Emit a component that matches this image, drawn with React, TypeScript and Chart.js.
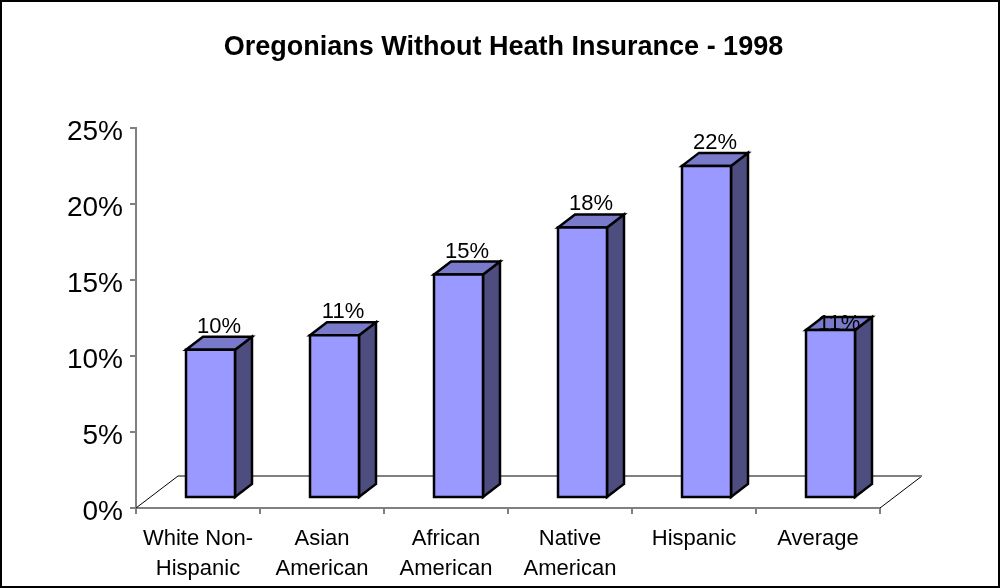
import React, { useEffect, useRef } from 'react';
import { Chart, registerables } from 'chart.js';

Chart.register(...registerables);

const TITLE = 'Oregonians Without Heath Insurance - 1998';
const CATEGORIES = [
  ['White Non-', 'Hispanic'],
  ['Asian', 'American'],
  ['African', 'American'],
  ['Native', 'American'],
  ['Hispanic'],
  ['Average'],
];
const UNINSURED = [0.0975, 0.107, 0.147, 0.178, 0.2185, 0.1105];
const Y_MIN = 0;
const Y_MAX = 0.25;
const Y_STEP = 0.05;

const FONT = '"Liberation Sans", Arial, Helvetica, sans-serif';
const FRONT = '#9999FF';
const TOP = '#7A7ACA';
const SIDE = '#4D4D80';

const pct = (v: number) => Math.round(v * 100) + '%';

const bar3d = {
  id: 'bar3d',
  beforeDraw(chart: any) {
    const { ctx, width, height } = chart;
    ctx.save();
    ctx.fillStyle = '#fff';
    ctx.fillRect(0, 0, width, height);
    ctx.restore();
  },
  beforeDatasetsDraw(chart: any) {
    const { ctx } = chart;
    const xs = chart.scales.x;
    const ys = chart.scales.y;
    const y0 = ys.getPixelForValue(0);
    const L = xs.left;
    const R = xs.right;
    const fdx = 42;
    const fdy = 32;
    ctx.save();
    ctx.strokeStyle = '#000';
    ctx.lineWidth = 1;
    ctx.beginPath();
    ctx.moveTo(L, y0);
    ctx.lineTo(L + fdx, y0 - fdy);
    ctx.moveTo(R + fdx, y0 - fdy);
    ctx.lineTo(R, y0);
    ctx.stroke();
    ctx.strokeStyle = '#808080';
    ctx.lineWidth = 2;
    ctx.beginPath();
    ctx.moveTo(L + fdx, y0 - fdy);
    ctx.lineTo(R + fdx, y0 - fdy);
    ctx.stroke();
    ctx.restore();
  },
  afterDatasetsDraw(chart: any) {
    const { ctx } = chart;
    const meta = chart.getDatasetMeta(0);
    const values = chart.data.datasets[0].data as number[];
    const bdx = 12.5;
    const bdy = 10;
    const ddx = 17;
    const ddy = 13;
    ctx.save();
    ctx.lineWidth = 2.5;
    ctx.lineJoin = 'miter';
    ctx.strokeStyle = '#000';
    meta.data.forEach((el: any, i: number) => {
      const { x, y, base, width } = el.getProps(['x', 'y', 'base', 'width'], true);
      const l = x - width / 2 + bdx;
      const r = x + width / 2 + bdx;
      const t = y - bdy;
      const b = base - bdy;
      // side
      ctx.beginPath();
      ctx.moveTo(r, t);
      ctx.lineTo(r + ddx, t - ddy);
      ctx.lineTo(r + ddx, b - ddy);
      ctx.lineTo(r, b);
      ctx.closePath();
      ctx.fillStyle = SIDE;
      ctx.fill();
      ctx.stroke();
      // top
      ctx.beginPath();
      ctx.moveTo(l, t);
      ctx.lineTo(l + ddx, t - ddy);
      ctx.lineTo(r + ddx, t - ddy);
      ctx.lineTo(r, t);
      ctx.closePath();
      ctx.fillStyle = TOP;
      ctx.fill();
      ctx.stroke();
      // front
      ctx.beginPath();
      ctx.rect(l, t, r - l, b - t);
      ctx.fillStyle = FRONT;
      ctx.fill();
      ctx.stroke();
    });
    // value labels
    ctx.fillStyle = '#000';
    ctx.font = '22px ' + FONT;
    ctx.textAlign = 'center';
    ctx.textBaseline = 'alphabetic';
    meta.data.forEach((el: any, i: number) => {
      const { x, y } = el.getProps(['x', 'y'], true);
      const cx = x + bdx + ddx / 2;
      const last = i === meta.data.length - 1;
      const ty = y - bdy - (last ? 0 : 17);
      ctx.fillText(pct(values[i]), cx, ty);
    });
    ctx.restore();
  },
  afterDraw(chart: any) {
    const { ctx, width, height } = chart;
    ctx.save();
    ctx.fillStyle = '#000';
    ctx.font = 'bold 27px ' + FONT;
    ctx.textAlign = 'center';
    ctx.textBaseline = 'alphabetic';
    ctx.fillText(TITLE, 503.5, 55);
    ctx.strokeStyle = '#000';
    ctx.lineWidth = 2;
    ctx.strokeRect(1, 1, 998, 586);
    ctx.restore();
  },
};

export default function App() {
  const ref = useRef<HTMLCanvasElement | null>(null);
  useEffect(() => {
    if (!ref.current) return;
    const chart = new Chart(ref.current, {
      type: 'bar',
      data: {
        labels: CATEGORIES,
        datasets: [
          {
            data: UNINSURED,
            backgroundColor: 'rgba(0,0,0,0)',
            borderWidth: 0,
            categoryPercentage: 1,
            barPercentage: 0.395,
          },
        ],
      },
      options: {
        animation: false,
        responsive: false,
        devicePixelRatio: 1,
        events: [],
        layout: { padding: { left: 0, right: 125, top: 128, bottom: 0 } },
        plugins: {
          legend: { display: false },
          title: { display: false },
          tooltip: { enabled: false },
        },
        scales: {
          x: {
            afterFit: (s: any) => {
              s.height = 80;
            },
            border: { display: true, color: '#808080', width: 2 },
            grid: {
              display: true,
              offset: true,
              drawOnChartArea: false,
              drawTicks: true,
              tickLength: 6,
              color: '#808080',
              lineWidth: 2,
            },
            ticks: {
              color: '#000',
              font: { family: FONT, size: 22, lineHeight: '30px' },
              padding: 10,
              maxRotation: 0,
              autoSkip: false,
            },
          },
          y: {
            min: Y_MIN,
            max: Y_MAX,
            afterFit: (s: any) => {
              s.width = 136;
            },
            border: { display: true, color: '#808080', width: 2 },
            grid: {
              display: true,
              drawOnChartArea: false,
              drawTicks: true,
              tickLength: 6,
              color: '#808080',
              lineWidth: 2,
            },
            ticks: {
              stepSize: Y_STEP,
              color: '#000',
              font: { family: FONT, size: 28 },
              padding: 7,
              labelOffset: 4,
              callback: (v: any) => pct(Number(v)),
            },
          },
        },
      },
      plugins: [bar3d],
    });
    return () => chart.destroy();
  }, []);
  return (
    <div style={{ position: 'absolute', left: 0, top: 0, width: 1005, height: 588, background: '#fff' }}>
      <canvas ref={ref} width={1005} height={588} style={{ display: 'block' }} />
    </div>
  );
}
